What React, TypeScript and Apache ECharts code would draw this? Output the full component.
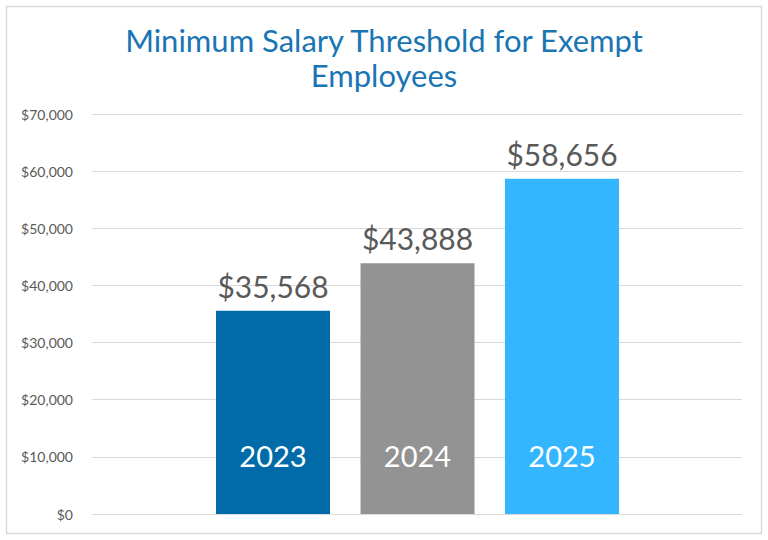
import React, { useEffect, useRef } from "react";
import * as echarts from "echarts";

const categories = ["2023", "2024", "2025"];
const values = [35568, 43888, 58656];
const colors = ["#006BA8", "#939393", "#33B6FF"];
const yTicks = [0, 10000, 20000, 30000, 40000, 50000, 60000, 70000];
const titleText = "Minimum Salary Threshold for Exempt\nEmployees";

const fmt = (v: number) => "$" + v.toLocaleString("en-US");

export default function App() {
  const ref = useRef<HTMLDivElement>(null);
  useEffect(() => {
    document.body.style.margin = "0";
    const chart = echarts.init(ref.current!, null, { renderer: "svg" });
    const font = "Lato, 'Noto Sans', sans-serif";
    const yMax = yTicks[yTicks.length - 1];
    chart.setOption({
      animation: false,
      backgroundColor: "#ffffff",
      textStyle: { fontFamily: font },
      title: {
        text: titleText,
        left: "center",
        top: 17,
        textStyle: {
          color: "#1A75B4",
          fontSize: 31,
          fontWeight: "normal",
          lineHeight: 35,
          fontFamily: font,
        },
      },
      graphic: [
        {
          type: "rect",
          shape: { x: 6.5, y: 6.5, width: 755, height: 527 },
          style: { fill: "none", stroke: "#D9D9D9", lineWidth: 1.5 },
          silent: true,
          z: 0,
        },
      ],
      grid: [
        { left: 92, right: 26, top: 114, bottom: 26 },
        { left: 200.75, right: 133.75, top: 114, bottom: 26 },
      ],
      xAxis: [
        { type: "value", gridIndex: 0, min: 0, max: 1, show: false },
        {
          type: "category",
          gridIndex: 1,
          data: categories,
          show: false,
        },
      ],
      yAxis: [
        {
          type: "value",
          gridIndex: 0,
          min: 0,
          max: yMax,
          interval: 10000,
          axisLine: { show: false },
          axisTick: { show: false },
          axisLabel: {
            color: "#595959",
            fontSize: 14,
            margin: 19,
            fontFamily: font,
            formatter: (v: number) => fmt(v),
          },
          splitLine: { lineStyle: { color: "#D9D9D9", width: 1 } },
        },
        {
          type: "value",
          gridIndex: 1,
          min: 0,
          max: yMax,
          interval: 10000,
          show: false,
        },
      ],
      series: [
        {
          type: "bar",
          xAxisIndex: 1,
          yAxisIndex: 1,
          barWidth: 114,
          data: values.map((v, i) => ({ value: v, itemStyle: { color: colors[i] } })),
          label: {
            show: true,
            position: "top",
            distance: 10,
            color: "#595959",
            fontSize: 30,
            fontFamily: font,
            formatter: (p: any) => fmt(p.value),
          },
          z: 2,
        },
        {
          type: "bar",
          xAxisIndex: 1,
          yAxisIndex: 1,
          barWidth: 114,
          barGap: "-100%",
          data: values,
          itemStyle: { color: "rgba(0,0,0,0)" },
          label: {
            show: true,
            position: "insideBottom",
            distance: 44,
            color: "#ffffff",
            fontSize: 29,
            fontFamily: font,
            formatter: (p: any) => p.name,
          },
          z: 3,
        },
      ],
    });
    return () => chart.dispose();
  }, []);
  return <div ref={ref} style={{ width: 768, height: 540 }} />;
}
